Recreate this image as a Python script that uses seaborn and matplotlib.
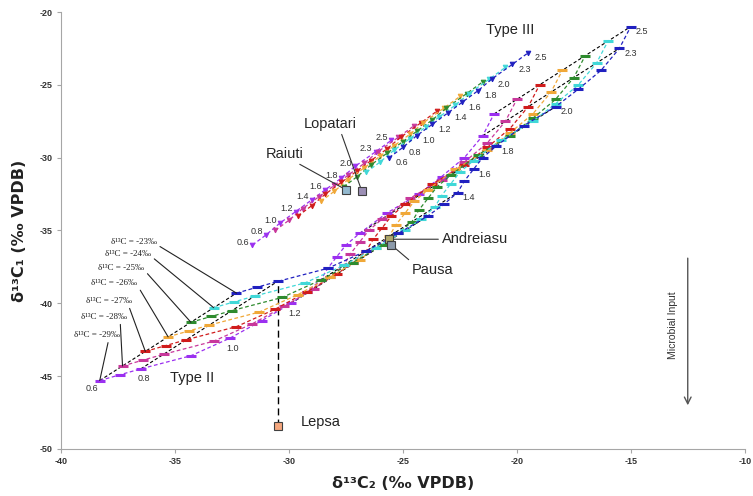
import matplotlib
matplotlib.use("Agg")
import matplotlib.pyplot as plt
import pandas as pd
import seaborn as sns

# ---------------- data ----------------
sources = [-23, -24, -25, -26, -27, -28, -29]

# Type II kerogen gas: maturity (Ro %) and δ13C2 / δ13C1 per source δ13C
ro_type2 = [0.6, 0.7, 0.8, 0.9, 1.0, 1.1, 1.2, 1.3, 1.4, 1.5, 1.6, 1.7, 1.8, 1.9, 2.0, 2.1, 2.2, 2.3, 2.5]
type2_c2 = {
    -23: [-32.3, -31.4, -30.5, -28.3, -26.6, -25.2, -23.9, -23.2, -22.6, -22.3, -21.9, -21.5, -20.9, -19.7, -18.3, -17.3, -16.3, -15.5, -15.0],
    -24: [-33.3, -32.4, -31.5, -29.3, -27.6, -26.2, -24.9, -24.2, -23.6, -23.3, -22.9, -22.5, -21.9, -20.7, -19.3, -18.3, -17.3, -16.5, -16.0],
    -25: [-34.3, -33.4, -32.5, -30.3, -28.6, -27.2, -25.9, -25.2, -24.6, -24.3, -23.9, -23.5, -22.9, -21.7, -20.3, -19.3, -18.3, -17.5, -17.0],
    -26: [-35.3, -34.4, -33.5, -31.3, -29.6, -28.2, -26.9, -26.2, -25.6, -25.3, -24.9, -24.5, -23.9, -22.7, -21.3, -20.3, -19.3, -18.5, -18.0],
    -27: [-36.3, -35.4, -34.5, -32.3, -30.6, -29.2, -27.9, -27.2, -26.6, -26.3, -25.9, -25.5, -24.9, -23.7, -22.3, -21.3, -20.3, -19.5, -19.0],
    -28: [-37.3, -36.4, -35.5, -33.3, -31.6, -30.2, -28.9, -28.2, -27.6, -27.3, -26.9, -26.5, -25.9, -24.7, -23.3, -22.3, -21.3, -20.5, -20.0],
    -29: [-38.3, -37.4, -36.5, -34.3, -32.6, -31.2, -29.9, -29.2, -28.6, -28.3, -27.9, -27.5, -26.9, -25.7, -24.3, -23.3, -22.3, -21.5, -21.0],
}
type2_c1 = {
    -23: [-39.3, -38.9, -38.5, -37.6, -36.4, -35.2, -34.0, -33.2, -32.4, -31.6, -30.8, -30.0, -29.2, -27.8, -26.5, -25.3, -24.0, -22.5, -21.0],
    -24: [-40.3, -39.9, -39.5, -38.6, -37.4, -36.2, -35.0, -34.2, -33.4, -32.6, -31.8, -31.0, -30.2, -28.8, -27.5, -26.3, -25.0, -23.5, -22.0],
    -25: [-41.3, -40.9, -40.5, -39.6, -38.4, -37.2, -36.0, -35.2, -34.4, -33.6, -32.8, -32.0, -31.2, -29.8, -28.5, -27.3, -26.0, -24.5, -23.0],
    -26: [-42.3, -41.9, -41.5, -40.6, -39.4, -38.2, -37.0, -36.2, -35.4, -34.6, -33.8, -33.0, -32.2, -30.8, -29.5, -28.3, -27.0, -25.5, -24.0],
    -27: [-43.3, -42.9, -42.5, -41.6, -40.4, -39.2, -38.0, -37.2, -36.4, -35.6, -34.8, -34.0, -33.2, -31.8, -30.5, -29.3, -28.0, -26.5, -25.0],
    -28: [-44.3, -43.9, -43.5, -42.6, -41.4, -40.2, -39.0, -38.2, -37.4, -36.6, -35.8, -35.0, -34.2, -32.8, -31.5, -30.3, -29.0, -27.5, -26.0],
    -29: [-45.3, -44.9, -44.5, -43.6, -42.4, -41.2, -40.0, -39.2, -38.4, -37.6, -36.8, -36.0, -35.2, -33.8, -32.5, -31.3, -30.0, -28.5, -27.0],
}

# Type III kerogen gas
ro_type3 = [0.6, 0.8, 1.0, 1.2, 1.4, 1.6, 1.8, 2.0, 2.3, 2.5]
type3_c2 = {
    -23: [-25.6, -25.0, -24.4, -23.7, -23.0, -22.4, -21.7, -21.1, -20.2, -19.5],
    -24: [-26.6, -26.0, -25.4, -24.7, -24.0, -23.4, -22.7, -22.1, -21.2, -20.5],
    -25: [-27.6, -27.0, -26.4, -25.7, -25.0, -24.4, -23.7, -23.1, -22.2, -21.5],
    -26: [-28.6, -28.0, -27.4, -26.7, -26.0, -25.4, -24.7, -24.1, -23.2, -22.5],
    -27: [-29.6, -29.0, -28.4, -27.7, -27.0, -26.4, -25.7, -25.1, -24.2, -23.5],
    -28: [-30.6, -30.0, -29.4, -28.7, -28.0, -27.4, -26.7, -26.1, -25.2, -24.5],
    -29: [-31.6, -31.0, -30.4, -29.7, -29.0, -28.4, -27.7, -27.1, -26.2, -25.5],
}
type3_c1 = {
    -23: [-30.0, -29.3, -28.5, -27.7, -26.9, -26.2, -25.4, -24.6, -23.6, -22.8],
    -24: [-31.0, -30.3, -29.5, -28.7, -27.9, -27.2, -26.4, -25.6, -24.6, -23.8],
    -25: [-32.0, -31.3, -30.5, -29.7, -28.9, -28.2, -27.4, -26.6, -25.6, -24.8],
    -26: [-33.0, -32.3, -31.5, -30.7, -29.9, -29.2, -28.4, -27.6, -26.6, -25.8],
    -27: [-34.0, -33.3, -32.5, -31.7, -30.9, -30.2, -29.4, -28.6, -27.6, -26.8],
    -28: [-35.0, -34.3, -33.5, -32.7, -31.9, -31.2, -30.4, -29.6, -28.6, -27.8],
    -29: [-36.0, -35.3, -34.5, -33.7, -32.9, -32.2, -31.4, -30.6, -29.6, -28.8],
}

# Gas samples
sample_names = ["Raiuti", "Lopatari", "Andreiasu", "Pausa", "Lepsa"]
sample_c2 = [-27.5, -26.8, -25.6, -25.5, -30.5]
sample_c1 = [-32.2, -32.3, -35.6, -36.0, -48.4]

# Maturity values that carry a label / an iso-maturity line
type2_low_labels = [0.6, 0.8, 1.0, 1.2]
type2_high_labels = [1.4, 1.6, 1.8, 2.0, 2.3, 2.5]
type2_isolines = [0.6, 0.8, 1.2, 1.4, 1.8, 2.0, 2.3, 2.5]

# ---------------- styling ----------------
palette = {-23: "#2020C0", -24: "#40D8D8", -25: "#2E8B2E", -26: "#F0A838",
           -27: "#D01C1C", -28: "#C8379B", -29: "#9B30F0"}
sample_colors = ["#93B9CF", "#9C8FB5", "#B0A86A", "#8C9AAA", "#F5A77E"]

sns.set_theme(style="white")
plt.rcParams["font.family"] = ["Liberation Sans", "DejaVu Sans"]
plt.rcParams["axes.unicode_minus"] = False

fig = plt.figure(figsize=(7.53, 4.96), dpi=100)
ax = fig.add_axes([0.081, 0.0948, 0.908, 0.881])


def long_table(ro, c2, c1):
    rows = []
    for s in sources:
        for r, x, y in zip(ro, c2[s], c1[s]):
            rows.append({"source": s, "ro": r, "c2": x, "c1": y})
    return pd.DataFrame(rows)


df2 = long_table(ro_type2, type2_c2, type2_c1)
df3 = long_table(ro_type3, type3_c2, type3_c1)

n0 = len(ax.lines)
sns.lineplot(data=df3, x="c2", y="c1", hue="source", palette=palette,
             sort=False, estimator=None, legend=False, ax=ax,
             linestyle=(0, (3, 2)), linewidth=0.9,
             marker="v", markersize=3.3)
n1 = len(ax.lines)
sns.lineplot(data=df2, x="c2", y="c1", hue="source", palette=palette,
             sort=False, estimator=None, legend=False, ax=ax,
             linestyle=(0, (3, 2)), linewidth=0.9,
             marker="_", markersize=7)
for ln in ax.lines[n0:]:
    ln.set_markeredgecolor(ln.get_color())
    ln.set_markerfacecolor(ln.get_color())
for ln in ax.lines[n1:]:
    ln.set_markeredgewidth(2.2)

# iso-maturity lines across source compositions
for r in type2_isolines:
    i = ro_type2.index(r)
    ax.plot([type2_c2[-29][i], type2_c2[-23][i]],
            [type2_c1[-29][i], type2_c1[-23][i]],
            color="black", linestyle=(0, (3, 2)), linewidth=0.8, zorder=1.5)

# maturity labels
lab_kw = dict(textcoords="offset pixels", fontsize=6.5, color="#333333")
for r in type2_low_labels:
    i = ro_type2.index(r)
    off = (-8, -8) if r == 0.6 else (3, -10)
    ax.annotate(f"{r:.1f}", (type2_c2[-29][i], type2_c1[-29][i]), xytext=off,
                ha="center", va="center", **lab_kw)
for r in type2_high_labels:
    i = ro_type2.index(r)
    ax.annotate(f"{r:.1f}", (type2_c2[-23][i], type2_c1[-23][i]), xytext=(5, -5),
                ha="left", va="center", **lab_kw)
for i, r in enumerate(ro_type3):
    ax.annotate(f"{r:.1f}", (type3_c2[-29][i], type3_c1[-29][i]), xytext=(-3, 3),
                ha="right", va="center", **lab_kw)
    ax.annotate(f"{r:.1f}", (type3_c2[-23][i], type3_c1[-23][i]), xytext=(6, -5),
                ha="left", va="center", **lab_kw)

# source composition call-outs
src_text_pos = [(-35.8, -35.8), (-36.05, -36.6), (-36.35, -37.55), (-36.65, -38.6),
                (-36.9, -39.85), (-37.1, -40.95), (-37.4, -42.2)]
src_relpos = [(1, 0.2), (1, 0.2), (1, 0.2), (1, 0.2), (0.93, 0), (0.85, 0), (0.75, 0)]
for s, pos, rp in zip(sources, src_text_pos, src_relpos):
    ax.annotate(f"δ¹³C = {s}‰", (type2_c2[s][0], type2_c1[s][0]), xytext=pos,
                ha="right", va="center", fontsize=6.5, family="Liberation Serif",
                color="#222222",
                arrowprops=dict(arrowstyle="-", color="#222222", lw=0.8,
                                shrinkA=0, shrinkB=0, relpos=rp))

# samples
for name, x, y, c in zip(sample_names, sample_c2, sample_c1, sample_colors):
    ax.plot(x, y, marker="s", markersize=6, color=c, markeredgecolor="#404040",
            markeredgewidth=0.8, linestyle="none", zorder=5)

smp = dict(zip(sample_names, zip(sample_c2, sample_c1)))
lead = dict(arrowstyle="-", color="#333333", lw=0.8, shrinkA=0, shrinkB=2)
ax.annotate("Raiuti", smp["Raiuti"], xytext=(-30.2, -29.75), ha="center", va="center",
            fontsize=10.5, arrowprops=dict(lead, relpos=(0.75, 0)))
ax.annotate("Lopatari", smp["Lopatari"], xytext=(-28.2, -27.7), ha="center", va="center",
            fontsize=10.5, arrowprops=dict(lead, relpos=(0.7, 0)))
ax.annotate("Andreiasu", smp["Andreiasu"], xytext=(-23.3, -35.6), ha="left", va="center",
            fontsize=10.5, arrowprops=dict(lead, relpos=(0, 0.5)))
ax.annotate("Pausa", smp["Pausa"], xytext=(-24.6, -37.7), ha="left", va="center",
            fontsize=10.5, arrowprops=dict(lead, relpos=(0.05, 0.9)))
ax.text(-29.5, -48.15, "Lepsa", ha="left", va="center", fontsize=10.5, color="#222222")

# Lepsa projected onto the Type II trend
i08 = ro_type2.index(0.8)
ax.plot([smp["Lepsa"][0], smp["Lepsa"][0]], [smp["Lepsa"][1], type2_c1[-23][i08]],
        color="black", linestyle=(0, (5, 3)), linewidth=1.0, zorder=1.6)

ax.text(-20.3, -21.25, "Type III", ha="center", va="center", fontsize=10.5, color="#222222")
ax.text(-34.25, -45.1, "Type II", ha="center", va="center", fontsize=10.5, color="#222222")

# microbial input arrow
ax.annotate("", xy=(-12.5, -47.0), xytext=(-12.5, -36.9),
            arrowprops=dict(arrowstyle="->", color="#555555", lw=1.0,
                            mutation_scale=12, shrinkA=0, shrinkB=0))
ax.text(-13.15, -41.5, "Microbial Input", rotation=90, ha="center", va="center",
        fontsize=7.5, color="#333333")

# axes
ax.set_xlim(-40, -10)
ax.set_ylim(-50, -20)
ax.set_xticks(range(-40, -9, 5))
ax.set_yticks(range(-50, -19, 5))
for lab in ax.get_xticklabels() + ax.get_yticklabels():
    lab.set_fontweight("bold")
    lab.set_fontsize(6.5)
    lab.set_color("#333333")
ax.tick_params(axis="both", direction="out", length=3, width=0.8,
               color="#A6A6A6", pad=3, bottom=True, left=True)
for side in ["top", "right"]:
    ax.spines[side].set_visible(False)
for side in ["left", "bottom"]:
    ax.spines[side].set_color("#A6A6A6")
    ax.spines[side].set_linewidth(0.8)
ax.grid(False)

ax.set_xlabel("δ¹³C₂ (‰ VPDB)", fontsize=11.5, fontweight="bold",
              family="DejaVu Sans", labelpad=7, color="#222222")
ax.set_ylabel("δ¹³C₁ (‰ VPDB)", fontsize=11.5, fontweight="bold",
              family="DejaVu Sans", labelpad=9, color="#222222")

fig.savefig("out.png", dpi=100)
